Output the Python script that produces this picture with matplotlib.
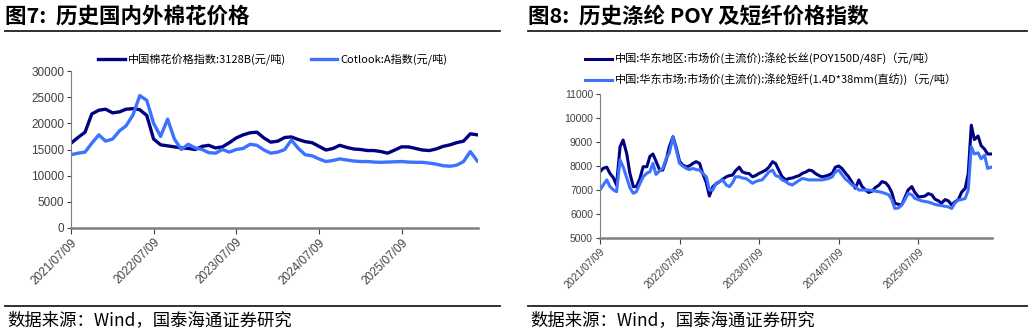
"""棉花价格 / 涤纶 POY 及短纤价格 两联图."""
import matplotlib
matplotlib.use("Agg")
import matplotlib.pyplot as plt
from matplotlib.lines import Line2D
import matplotlib.dates as mdates
import pandas as pd

plt.rcParams["font.family"] = ["Noto Sans CJK SC", "DejaVu Sans"]
plt.rcParams["axes.unicode_minus"] = False

DARK = "#000080"
LIGHT = "#3D72FF"

# ---- 图7 棉花 (月度, 2021/07 起) ----
cotton_cn = [16200, 17300, 18300, 21800, 22500, 22700, 22000, 22200, 22700, 22800,
             22600, 21500, 17000, 15900, 15700, 15500, 15300, 15200, 15000, 15600,
             15800, 15300, 15500, 16300, 17200, 17800, 18200, 18300, 17200, 16400,
             16600, 17300, 17400, 16900, 16500, 16300, 15600, 14900, 15200, 15800,
             15400, 15100, 15000, 14800, 14800, 14600, 14300, 14900, 15500, 15500,
             15200, 14900, 14800, 15100, 15600, 15900, 16300, 16600, 18000, 17800]
cotlook_a = [14000, 14300, 14500, 16200, 17800, 16600, 17000, 18600, 19500, 21600,
             25300, 24400, 20000, 17500, 20800, 17000, 15000, 16000, 15300, 15000,
             14400, 14300, 15000, 14500, 15000, 15200, 16000, 15800, 14900, 14300,
             14500, 15000, 16800, 15200, 14000, 13800, 13200, 12700, 12900, 13200,
             13000, 12800, 12700, 12700, 12600, 12550, 12600, 12650, 12700, 12600,
             12550, 12550, 12400, 12200, 11900, 11800, 12000, 12700, 14600, 12800]
cotton_dates = pd.date_range("2021-07-01", periods=len(cotton_cn), freq="MS") + pd.Timedelta(days=8)

# ---- 图8 涤纶 (半月度, 2021/07 起) ----
poy = [7760, 7900, 7950, 7700, 7500, 7200, 8800, 9080, 8500, 7700,
       7140, 7140, 7500, 7970, 7970, 8400, 8500, 8200, 7830, 7830,
       8250, 8800, 9220, 8800, 8200, 8040, 7970, 8000, 8110, 8180,
       8110, 7700, 7300, 6750, 7140, 7250, 7350, 7450, 7550, 7600,
       7620, 7800, 7950, 7760, 7700, 7690, 7550, 7600, 7690, 7750,
       7830, 7950, 8180, 8100, 7800, 7550, 7420, 7480, 7500, 7550,
       7600, 7690, 7750, 7830, 7800, 7690, 7600, 7550, 7580, 7620,
       7700, 7950, 8000, 7900, 7700, 7550, 7300, 7070, 7420, 7150,
       7000, 6900, 6950, 7100, 7200, 7350, 7300, 7150, 6900, 6450,
       6400, 6370, 6700, 7000, 7140, 6900, 6720, 6720, 6750, 6850,
       6800, 6620, 6550, 6450, 6600, 6550, 6380, 6500, 6600, 6900,
       7070, 7690, 9700, 9100, 9250, 8850, 8700, 8500, 8500]
psf = [7000, 7200, 7420, 7150, 7000, 6930, 8250, 7970, 7500, 7100,
       6860, 6930, 7280, 7550, 7700, 7760, 8110, 7650, 7800, 7900,
       8320, 8530, 9220, 8700, 8110, 8000, 7900, 7850, 7900, 7850,
       7830, 7700, 7550, 7000, 7000, 7280, 7350, 7420, 7200, 7140,
       7300, 7550, 7550, 7500, 7480, 7400, 7280, 7350, 7400, 7420,
       7600, 7750, 7830, 7600, 7550, 7420, 7350, 7250, 7210, 7300,
       7400, 7480, 7450, 7420, 7420, 7420, 7420, 7420, 7450, 7480,
       7550, 7750, 7830, 7650, 7450, 7350, 7200, 7140, 7000, 7000,
       7000, 7000, 6980, 6950, 6930, 6900, 6850, 6800, 6600, 6230,
       6250, 6370, 6600, 6860, 6800, 6650, 6600, 6550, 6520, 6500,
       6450, 6400, 6370, 6350, 6320, 6300, 6230, 6450, 6580, 6600,
       6650, 7000, 8800, 8500, 8550, 8300, 8450, 7900, 7950]
poly_dates = pd.date_range("2021-07-01", periods=len(poy), freq="SMS") + pd.Timedelta(days=8)

tick_dates = pd.to_datetime(["2021-07-09", "2022-07-09", "2023-07-09", "2024-07-09", "2025-07-09"])
x_end = pd.Timestamp("2026-06-12")

W, H = 1032, 333
fig = plt.figure(figsize=(W / 100, H / 100), dpi=100)


def fx(px):
    return px / W


def fy(py):
    return 1 - py / H


def style_axes(ax, fs):
    ax.set_xlim(tick_dates[0], x_end)
    ax.set_xticks(tick_dates)
    ax.xaxis.set_major_formatter(mdates.DateFormatter("%Y/%m/%d"))
    for lab in ax.get_xticklabels():
        lab.set_rotation(45)
        lab.set_ha("right")
        lab.set_rotation_mode("anchor")
        lab.set_fontsize(fs)
        lab.set_family(["Liberation Sans", "DejaVu Sans"])
    for lab in ax.get_yticklabels():
        lab.set_fontsize(fs)
        lab.set_family(["Liberation Sans", "DejaVu Sans"])
    ax.spines["top"].set_visible(False)
    ax.spines["right"].set_visible(False)
    ax.spines["left"].set_color("#808080")
    ax.spines["left"].set_linewidth(0.8)
    ax.spines["bottom"].set_color("#7f7f7f")
    ax.spines["bottom"].set_linewidth(1.8)
    ax.tick_params(axis="both", colors="#404040", length=3, width=0.8, pad=2)
    ax.tick_params(axis="x", length=4)


def frame(x0, x1, title, tsize):
    fig.text(fx(x0), fy(16), title, fontsize=tsize, fontweight="bold", va="center", ha="left",
             family=["Noto Sans CJK SC", "DejaVu Sans"])
    fig.add_artist(Line2D([fx(x0), fx(x1)], [fy(30.5), fy(30.5)], color="#202020", lw=1.3))
    fig.add_artist(Line2D([fx(x0), fx(x1)], [fy(306), fy(306)], color="#202020", lw=1.3))
    fig.text(fx(x0 + 2), fy(320), "数据来源：Wind，国泰海通证券研究", fontsize=12.5, va="center", ha="left")


# 图7
ax1 = fig.add_axes([fx(71), fy(228), fx(478 - 71), (228 - 71) / H])
ax1.plot(cotton_dates, cotton_cn, color=DARK, lw=2.4, label="中国棉花价格指数:3128B(元/吨)")
ax1.plot(cotton_dates, cotlook_a, color=LIGHT, lw=2.4, label="Cotlook:A指数(元/吨)")
ax1.set_ylim(0, 30000)
ax1.set_yticks(range(0, 30001, 5000))
style_axes(ax1, 8.5)
ax1.legend(loc="lower left", bbox_to_anchor=(fx(98), fy(65)), bbox_transform=fig.transFigure,
           ncol=2, frameon=False, fontsize=8, handlelength=2.4, handletextpad=0.3,
           columnspacing=2.2, borderaxespad=0, borderpad=0)
frame(5, 500, "图7:  历史国内外棉花价格", 15.5)

# 图8
ax2 = fig.add_axes([fx(600), fy(238), fx(992 - 600), (238 - 94) / H])
ax2.plot(poly_dates, poy, color=DARK, lw=2.2, label="中国:华东地区:市场价(主流价):涤纶长丝(POY150D/48F)（元/吨）")
ax2.plot(poly_dates, psf, color=LIGHT, lw=2.2, label="中国:华东市场:市场价(主流价):涤纶短纤(1.4D*38mm(直纺))（元/吨）")
ax2.set_ylim(5000, 11000)
ax2.set_yticks(range(5000, 11001, 1000))
style_axes(ax2, 7.5)
ax2.legend(loc="lower left", bbox_to_anchor=(fx(585), fy(86)), bbox_transform=fig.transFigure,
           ncol=1, frameon=False, fontsize=8, handlelength=2.4, handletextpad=0.3,
           labelspacing=0.75, borderaxespad=0, borderpad=0)
frame(528, 1027, "图8:  历史涤纶 POY 及短纤价格指数", 15.5)

fig.savefig("out.png", dpi=100)
plt.close(fig)
